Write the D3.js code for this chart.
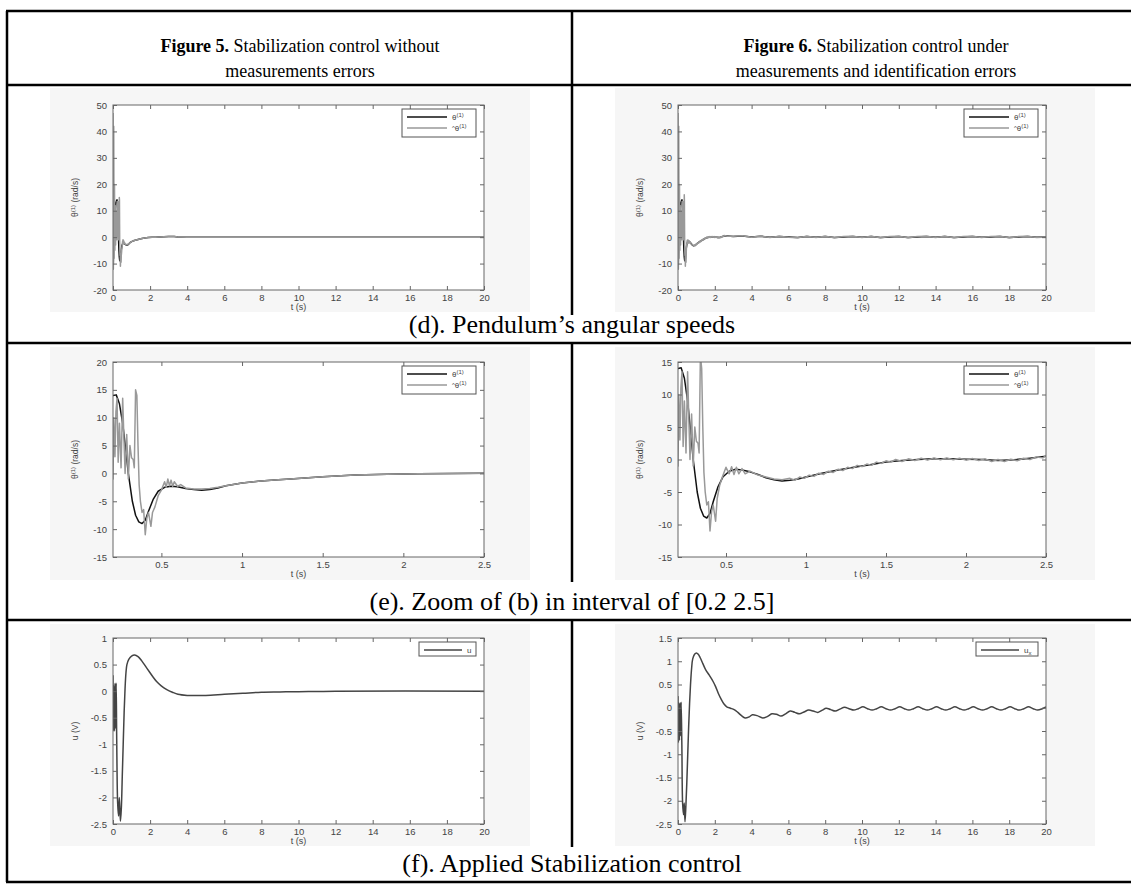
<!DOCTYPE html>
<html>
<head>
<meta charset="utf-8">
<script src="https://cdn.jsdelivr.net/npm/d3@7"></script>
<style>
  body { margin: 0; background: #fff; }
  svg { display: block; }
</style>
</head>
<body>
<svg id="fig" width="1131" height="884"></svg>
<script>
// ---- data: [t (s), value] ----
const xTicksLong = [0, 2, 4, 6, 8, 10, 12, 14, 16, 18, 20];
const xTicksZoom = [0.5, 1, 1.5, 2, 2.5];
const yTicksSpeed = [-20, -10, 0, 10, 20, 30, 40, 50];
const yTicksZoom5 = [-15, -10, -5, 0, 5, 10, 15, 20];
const yTicksZoom6 = [-15, -10, -5, 0, 5, 10, 15];
const yTicksU5 = [-2.5, -2, -1.5, -1, -0.5, 0, 0.5, 1];
const yTicksU6 = [-2.5, -2, -1.5, -1, -0.5, 0, 0.5, 1, 1.5];

// Figure 5 : pendulum angular speed and its estimate
const theta5 = [[0,0],[0.01,-12],[0.03,-6],[0.06,2],[0.1,9],[0.15,13],[0.2,14],[0.22,14.1],[0.24,12.5],
  [0.26,9],[0.28,4],[0.295,0],[0.32,-5],[0.34,-7.5],[0.36,-8.7],[0.38,-9],[0.4,-8.4],[0.42,-6.8],[0.45,-4.6],
  [0.48,-3.2],[0.52,-2.5],[0.56,-2.3],[0.6,-2.4],[0.65,-2.7],[0.7,-2.9],[0.75,-3],[0.8,-2.9],[0.85,-2.6],
  [0.9,-2.2],[1,-1.7],[1.1,-1.4],[1.2,-1.2],[1.3,-1],[1.5,-0.6],[1.7,-0.3],[1.9,-0.15],[2.1,-0.05],[2.3,0],
  [2.5,0.05],[3,0.2],[3.3,0.2],[3.5,0.05],[4,0],[20,0]];
const thetaHat5 = [[0,47],[0.01,10],[0.02,-12],[0.04,42],[0.06,-8],[0.08,20],[0.1,-5],[0.12,12],[0.14,-3],
  [0.16,8],[0.18,0],[0.2,-1],[0.205,10],[0.212,3],[0.218,11],[0.225,13.5],[0.232,2],[0.24,9],[0.25,1],
  [0.26,13.5],[0.268,6],[0.275,0],[0.285,7],[0.295,-1],[0.305,5],[0.315,2.8],[0.325,2.5],[0.332,1],
  [0.34,15],[0.348,14],[0.355,5],[0.362,-2],[0.37,-5],[0.38,-7],[0.39,-6.5],[0.4,-11],[0.41,-8],[0.42,-7],
  [0.435,-9.5],[0.445,-7],[0.46,-6],[0.48,-4],[0.5,-3],[0.52,-1.5],[0.53,-2.5],[0.54,-1],[0.55,-2.2],
  [0.56,-1.2],[0.57,-2.3],[0.58,-1.5],[0.6,-2.3],[0.62,-2],[0.65,-2.6],[0.7,-2.8],[0.75,-2.8],[0.8,-2.7],
  [0.85,-2.5],[0.9,-2.2],[1,-1.7],[1.1,-1.4],[1.2,-1.2],[1.3,-1],[1.5,-0.6],[1.7,-0.3],[1.9,-0.15],
  [2.1,-0.05],[2.3,0],[2.5,0.05],[3,0.2],[3.3,0.2],[3.5,0.05],[4,0],[20,0]];

// Figure 6 : same with measurement and identification errors
const theta6 = [[0,0],[0.01,-12],[0.03,-6],[0.06,2],[0.1,9],[0.15,13],[0.2,14],[0.22,14.1],[0.24,12.5],
  [0.26,9],[0.28,4],[0.295,0],[0.32,-5],[0.34,-7.5],[0.36,-8.7],[0.38,-9],[0.4,-8.3],[0.42,-6.5],[0.45,-4.2],
  [0.48,-2.7],[0.52,-1.8],[0.56,-1.5],[0.6,-1.6],[0.65,-1.9],[0.7,-2.3],[0.75,-2.8],[0.8,-3.1],[0.85,-3.3],
  [0.9,-3.2],[0.95,-3],[1,-2.7],[1.1,-2.1],[1.2,-1.6],[1.3,-1.2],[1.4,-0.8],[1.5,-0.4],[1.6,-0.15],[1.7,0],
  [1.8,0.1],[1.9,0.1],[2,0.05],[2.1,0],[2.2,-0.15],[2.3,-0.05],[2.4,0.2],[2.5,0.5],[2.7,0.4],[3,0.2],
  [3.5,0.4],[4,0.1],[4.5,0.3],[5,0],[5.5,0.2],[6,0.1],[6.5,-0.1],[7,0.2],[7.5,0],[8,0.2],[8.5,-0.1],
  [9,0.1],[9.5,0.2],[10,0],[10.5,0.2],[11,-0.1],[11.5,0.1],[12,0.2],[12.5,-0.1],[13,0.1],[13.5,0.2],
  [14,0],[14.5,0.2],[15,-0.1],[15.5,0.1],[16,0.2],[16.5,0],[17,0.1],[17.5,0.2],[18,-0.1],[18.5,0.1],
  [19,0.2],[19.5,0],[20,0.1]];
const thetaHat6 = [[0,47],[0.01,10],[0.02,-12],[0.04,42],[0.06,-8],[0.08,20],[0.1,-5],[0.12,12],[0.14,-3],
  [0.16,8],[0.18,0],[0.2,-1],[0.205,10],[0.212,3],[0.218,11],[0.225,13.5],[0.232,2],[0.24,9],[0.25,1],
  [0.26,13.5],[0.268,6],[0.275,0],[0.285,7],[0.295,-1],[0.305,5],[0.315,2.8],[0.325,2.5],[0.332,1],
  [0.34,16],[0.348,14],[0.355,5],[0.362,-2],[0.37,-5],[0.38,-7],[0.39,-6.5],[0.4,-11],[0.41,-8],[0.42,-7],
  [0.435,-9.5],[0.445,-6],[0.46,-4],[0.48,-2.5],[0.5,-1.2],[0.52,-2.2],[0.535,-1.1],[0.55,-2.3],
  [0.565,-1.2],[0.58,-2.2],[0.6,-1.4],[0.62,-2.2],[0.65,-1.8],[0.7,-2.4],[0.75,-2.7],[0.8,-3],[0.85,-3.1],
  [0.9,-2.9],[0.93,-3.2],[0.96,-2.7],[0.99,-2.9],[1.02,-2.4],[1.05,-2.6],[1.08,-2.1],[1.11,-2.3],
  [1.14,-1.8],[1.17,-2],[1.2,-1.5],[1.23,-1.7],[1.26,-1.2],[1.29,-1.4],[1.32,-0.9],[1.35,-1.1],
  [1.38,-0.7],[1.41,-0.9],[1.44,-0.4],[1.47,-0.6],[1.5,-0.2],[1.53,-0.4],[1.56,0],[1.6,-0.3],[1.64,0.1],
  [1.68,-0.15],[1.72,0.2],[1.76,-0.1],[1.8,0.25],[1.84,-0.05],[1.88,0.25],[1.92,-0.05],[1.96,0.2],
  [2,-0.1],[2.04,0.15],[2.08,-0.15],[2.12,0.1],[2.16,-0.3],[2.2,0],[2.24,-0.3],[2.28,0.05],[2.32,-0.2],
  [2.36,0.2],[2.4,0],[2.44,0.4],[2.48,0.25],[2.5,0.6],[2.7,0.3],[3,0.3],[3.5,0.5],[4,0],[4.5,0.4],[5,-0.1],
  [5.5,0.3],[6,0],[6.5,-0.2],[7,0.3],[7.5,-0.1],[8,0.3],[8.5,-0.2],[9,0.2],[9.5,0.3],[10,-0.1],[10.5,0.3],
  [11,-0.2],[11.5,0.2],[12,0.3],[12.5,-0.2],[13,0.2],[13.5,0.3],[14,-0.1],[14.5,0.3],[15,-0.2],[15.5,0.2],
  [16,0.3],[16.5,-0.1],[17,0.2],[17.5,0.3],[18,-0.2],[18.5,0.2],[19,0.3],[19.5,-0.1],[20,0.1]];

// applied control
const u5 = [[0,0.3],[0.02,-0.75],[0.05,0.1],[0.08,-0.75],[0.11,0.15],[0.14,-0.7],[0.17,0.15],[0.2,-0.9],
  [0.25,-2.1],[0.3,-2.35],[0.34,-2.0],[0.4,-2.45],[0.45,-2.2],[0.5,-1.6],[0.55,-1],[0.6,-0.4],[0.65,0.05],
  [0.7,0.35],[0.75,0.5],[0.85,0.6],[1,0.66],[1.17,0.68],[1.35,0.65],[1.55,0.57],[1.75,0.47],[1.95,0.37],
  [2.15,0.27],[2.35,0.18],[2.6,0.1],[2.9,0.03],[3.2,-0.02],[3.5,-0.06],[4,-0.08],[4.5,-0.08],[5,-0.08],
  [6,-0.06],[7,-0.04],[8,-0.02],[9,-0.015],[10,-0.01],[12,0],[20,0]];
const u6 = [[0,0.25],[0.02,-0.75],[0.05,0.1],[0.08,-0.7],[0.11,0.1],[0.14,-0.6],[0.17,0.12],[0.21,-0.8],
  [0.25,-2.05],[0.3,-2.3],[0.34,-2.05],[0.38,-2.45],[0.43,-2.1],[0.48,-1.6],[0.53,-1],[0.58,-0.4],
  [0.63,0.1],[0.68,0.5],[0.74,0.85],[0.8,1.05],[0.9,1.15],[1,1.18],[1.1,1.15],[1.2,1.08],[1.35,0.95],
  [1.5,0.82],[1.7,0.7],[1.9,0.57],[2.05,0.45],[2.2,0.3],[2.35,0.18],[2.5,0.08],[2.65,0.02],[2.85,-0.01],
  [3.05,-0.04],[3.25,-0.1],[3.45,-0.17],[3.65,-0.22],[3.85,-0.2],[4.05,-0.15],[4.3,-0.17],[4.6,-0.22],
  [4.85,-0.19],[5.1,-0.13],[5.35,-0.14],[5.6,-0.18],[5.85,-0.13],[6.1,-0.07],[6.35,-0.1],[6.6,-0.13],
  [6.85,-0.09],[7.1,-0.05],[7.35,-0.07],[7.6,-0.1],[7.85,-0.05],[8.05,-0.01],[8.3,-0.04],[8.55,-0.07],
  [8.8,-0.03],[9.05,0.01],[9.3,-0.02],[9.55,-0.05],[9.8,-0.02],[10.05,0.02],[10.3,-0.02],[10.55,-0.05],
  [10.8,-0.02],[11.05,0.02],[11.3,-0.02],[11.55,-0.05],[11.8,-0.02],[12.05,0.02],[12.3,-0.02],[12.55,-0.05],
  [12.8,-0.02],[13.05,0.02],[13.3,-0.02],[13.55,-0.05],[13.8,-0.02],[14.05,0.02],[14.3,-0.02],[14.55,-0.05],
  [14.8,-0.02],[15.05,0.02],[15.3,-0.02],[15.55,-0.05],[15.8,-0.02],[16.05,0.02],[16.3,-0.02],[16.55,-0.05],
  [16.8,-0.02],[17.05,0.02],[17.3,-0.02],[17.55,-0.05],[17.8,-0.02],[18.05,0.02],[18.3,-0.02],[18.55,-0.05],
  [18.8,-0.02],[19.05,0.02],[19.3,-0.02],[19.55,-0.05],[19.8,-0.02],[20,0.02]];

// ---- page layout ----
const svg = d3.select("#fig");
const tickFont = "'Liberation Sans', Arial, sans-serif";
const serif = "'Liberation Serif', 'Times New Roman', serif";

const table = { left: 7, right: 1140, split: 572, top: 11, header: 85, rowD: 343, rowE: 620, bottom: 882 };
const captionTop = [315, 582, 847];

class Panel {
    constructor(parent, box) {
        this.g = parent.append("g");
        this.box = box;   // {left, right, top, bottom, bg:[x0,y0,x1,y1]}
    }

    draw(cfg) {
        const b = this.box;
        const x = d3.scaleLinear().domain(cfg.xDomain).range([b.left, b.right]);
        const y = d3.scaleLinear().domain(cfg.yDomain).range([b.bottom, b.top]);
        const id = "clip" + Math.round(b.left) + "_" + Math.round(b.top);

        this.g.append("rect")
            .attr("x", b.bg[0]).attr("y", b.bg[1])
            .attr("width", b.bg[2] - b.bg[0]).attr("height", b.bg[3] - b.bg[1])
            .attr("fill", "#f6f6f6");
        this.g.append("rect")
            .attr("x", b.left).attr("y", b.top)
            .attr("width", b.right - b.left).attr("height", b.bottom - b.top)
            .attr("fill", "#fff");

        this.g.append("clipPath").attr("id", id)
            .append("rect")
            .attr("x", b.left).attr("y", b.top)
            .attr("width", b.right - b.left).attr("height", b.bottom - b.top);

        const line = d3.line()
            .x(d => x(d[0]))
            .y(d => y(d[1]))
            .curve(cfg.smooth ? d3.curveCatmullRom.alpha(0.5) : d3.curveLinear);

        this.g.append("g")
            .attr("clip-path", `url(#${id})`)
            .selectAll("path")
            .data(cfg.series)
            .join("path")
            .attr("d", s => line(s.data))
            .attr("fill", "none")
            .attr("stroke", s => s.color)
            .attr("stroke-width", 1.5)
            .attr("stroke-linejoin", "round");

        const fmt = d => String(d);
        const styleAxis = sel => {
            sel.select(".domain").remove();
            sel.selectAll("line").attr("stroke", "#666");
            sel.selectAll("text").attr("font-family", tickFont).attr("font-size", 9.5).attr("fill", "#444");
        };
        this.g.append("g").attr("transform", `translate(0,${b.bottom})`)
            .call(d3.axisBottom(x).tickValues(cfg.xTicks).tickFormat(fmt).tickSize(-4).tickPadding(4))
            .call(styleAxis);
        this.g.append("g").attr("transform", `translate(0,${b.top})`)
            .call(d3.axisTop(x).tickValues(cfg.xTicks).tickFormat("").tickSize(-4))
            .call(styleAxis);
        this.g.append("g").attr("transform", `translate(${b.left},0)`)
            .call(d3.axisLeft(y).tickValues(cfg.yTicks).tickFormat(fmt).tickSize(-4).tickPadding(6))
            .call(styleAxis);
        this.g.append("g").attr("transform", `translate(${b.right},0)`)
            .call(d3.axisRight(y).tickValues(cfg.yTicks).tickFormat("").tickSize(-4))
            .call(styleAxis);

        this.g.append("rect")
            .attr("x", b.left).attr("y", b.top)
            .attr("width", b.right - b.left).attr("height", b.bottom - b.top)
            .attr("fill", "none").attr("stroke", "#666").attr("stroke-width", 1);

        // axis titles
        this.g.append("text")
            .attr("x", (b.left + b.right) / 2).attr("y", b.bottom + 20)
            .attr("text-anchor", "middle")
            .attr("font-family", tickFont).attr("font-size", 9).attr("fill", "#444")
            .text("t (s)");

        const yl = this.g.append("text")
            .attr("transform", `translate(${b.left - 35},${(b.top + b.bottom) / 2}) rotate(-90)`)
            .attr("text-anchor", "middle")
            .attr("font-family", tickFont).attr("font-size", 8.5).attr("fill", "#444");
        cfg.yLabel(yl);

        // legend
        const lg = cfg.legend;
        const lx = b.right - 8 - lg.width, ly = b.top + 4;
        const leg = this.g.append("g");
        leg.append("rect")
            .attr("x", lx).attr("y", ly).attr("width", lg.width).attr("height", lg.height)
            .attr("fill", "#fff").attr("stroke", "#555").attr("stroke-width", 1);
        lg.items.forEach((it, i) => {
            const cy = ly + 8 + i * 11;
            leg.append("line")
                .attr("x1", lx + 5).attr("x2", lx + 5 + lg.lineLen)
                .attr("y1", cy).attr("y2", cy)
                .attr("stroke", it.color).attr("stroke-width", 1.5);
            const t = leg.append("text")
                .attr("x", lx + 10 + lg.lineLen).attr("y", cy + 3)
                .attr("font-family", tickFont).attr("font-size", 8).attr("fill", "#444");
            it.label(t);
        });
    }
}

// label helpers (theta with superscript)
const thetaLabel = hat => t => {
    if (hat) t.append("tspan").attr("font-size", 6).attr("dy", -1).text("^");
    t.append("tspan").attr("dy", hat ? 1 : 0).text("θ");
    t.append("tspan").attr("font-size", 6).attr("dy", -3).text("(1)");
};
const uLabel = sub => t => {
    t.append("tspan").text("u");
    if (sub) t.append("tspan").attr("font-size", 6).attr("dy", 2).text("x");
};
const speedYLabel = t => {
    t.append("tspan").text("θ");
    t.append("tspan").attr("font-size", 6).attr("dy", -3).text("(1)");
    t.append("tspan").attr("dy", 3).text(" (rad/s)");
};
const voltYLabel = t => t.text("u (V)");

// ---- table grid ----
const grid = svg.append("g").attr("stroke", "#000").attr("stroke-width", 2.5);
[table.top, table.header, table.rowD, table.rowE, table.bottom].forEach(yy =>
    grid.append("line").attr("x1", table.left - 1).attr("x2", table.right).attr("y1", yy).attr("y2", yy));
grid.append("line").attr("x1", table.left).attr("x2", table.left).attr("y1", table.top).attr("y2", table.bottom);
[[table.top, captionTop[0]], [table.rowD, captionTop[1]], [table.rowE, captionTop[2]]].forEach(([a, bb]) =>
    grid.append("line").attr("x1", table.split).attr("x2", table.split).attr("y1", a).attr("y2", bb));

// header
const headers = [
    { cx: 300, bold: "Figure 5.", rest: " Stabilization control without", line2: "measurements errors" },
    { cx: 876, bold: "Figure 6.", rest: " Stabilization control under", line2: "measurements and identification errors" }
];
headers.forEach(h => {
    const t1 = svg.append("text").attr("x", h.cx).attr("y", 52)
        .attr("text-anchor", "middle").attr("font-family", serif).attr("font-size", 18);
    t1.append("tspan").attr("font-weight", "bold").text(h.bold);
    t1.append("tspan").text(h.rest);
    svg.append("text").attr("x", h.cx).attr("y", 77)
        .attr("text-anchor", "middle").attr("font-family", serif).attr("font-size", 18)
        .text(h.line2);
});

// captions
const captions = [
    { y: 333, text: "(d). Pendulum’s angular speeds" },
    { y: 610, text: "(e). Zoom of (b) in interval of [0.2 2.5]" },
    { y: 872, text: "(f). Applied Stabilization control" }
];
captions.forEach(c => svg.append("text")
    .attr("x", 572).attr("y", c.y).attr("text-anchor", "middle")
    .attr("font-family", serif).attr("font-size", 26).text(c.text));

// ---- panels ----
const cols = [
    { left: 113, right: 484, bgx: [50, 530] },
    { left: 678, right: 1046, bgx: [615, 1095] }
];
const rowsY = [
    { top: 105, bottom: 290, bgy: [88, 312] },
    { top: 362, bottom: 557, bgy: [347, 580] },
    { top: 638, bottom: 824, bgy: [624, 846] }
];
const box = (c, r) => ({
    left: cols[c].left, right: cols[c].right, top: rowsY[r].top, bottom: rowsY[r].bottom,
    bg: [cols[c].bgx[0], rowsY[r].bgy[0], cols[c].bgx[1], rowsY[r].bgy[1]]
});

const speedLegend = { width: 74, height: 28, lineLen: 40,
    items: [{ color: "#111", label: thetaLabel(false) }, { color: "#999", label: thetaLabel(true) }] };

const panels = [
    { c: 0, r: 0, xDomain: [0, 20], yDomain: [-20, 50], xTicks: xTicksLong, yTicks: yTicksSpeed,
      series: [{ data: theta5, color: "#111" }, { data: thetaHat5, color: "#999" }], legend: speedLegend, yLabel: speedYLabel },
    { c: 1, r: 0, xDomain: [0, 20], yDomain: [-20, 50], xTicks: xTicksLong, yTicks: yTicksSpeed,
      series: [{ data: theta6, color: "#111" }, { data: thetaHat6, color: "#999" }], legend: speedLegend, yLabel: speedYLabel },
    { c: 0, r: 1, xDomain: [0.2, 2.5], yDomain: [-15, 20], xTicks: xTicksZoom, yTicks: yTicksZoom5,
      series: [{ data: theta5, color: "#111" }, { data: thetaHat5, color: "#999" }], legend: speedLegend, yLabel: speedYLabel },
    { c: 1, r: 1, xDomain: [0.2, 2.5], yDomain: [-15, 15], xTicks: xTicksZoom, yTicks: yTicksZoom6,
      series: [{ data: theta6, color: "#111" }, { data: thetaHat6, color: "#999" }], legend: speedLegend, yLabel: speedYLabel },
    { c: 0, r: 2, xDomain: [0, 20], yDomain: [-2.5, 1], xTicks: xTicksLong, yTicks: yTicksU5, smooth: true,
      series: [{ data: u5, color: "#444" }], yLabel: voltYLabel,
      legend: { width: 57, height: 14, lineLen: 38, items: [{ color: "#444", label: uLabel(false) }] } },
    { c: 1, r: 2, xDomain: [0, 20], yDomain: [-2.5, 1.5], xTicks: xTicksLong, yTicks: yTicksU6, smooth: true,
      series: [{ data: u6, color: "#444" }], yLabel: voltYLabel,
      legend: { width: 62, height: 14, lineLen: 38, items: [{ color: "#444", label: uLabel(true) }] } }
];

panels.forEach(p => new Panel(svg, box(p.c, p.r)).draw(p));
</script>
</body>
</html>
